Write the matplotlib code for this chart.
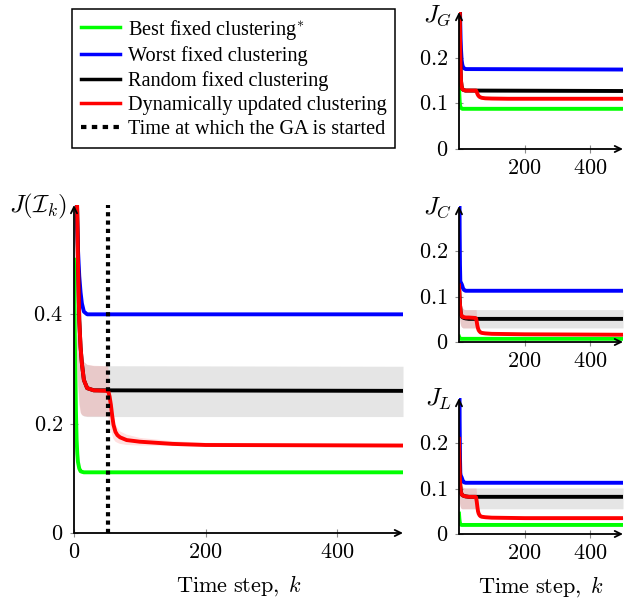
import matplotlib
matplotlib.use('Agg')
import matplotlib.pyplot as plt
from matplotlib.lines import Line2D
from matplotlib.ticker import FuncFormatter

# time steps
k_fast = [0, 1, 2, 3, 4, 5, 6, 8, 10, 12, 15, 20, 30, 500]
k_ga = [0, 1, 2, 3, 4, 5, 6, 8, 10, 12, 15, 20, 30,
        50, 52, 54, 56, 58, 60, 63, 66, 70, 80, 100, 150, 200, 500]
ga_start = 52

# main panel, J(I_k)
main_best = [0.5, 0.38, 0.3, 0.22, 0.17, 0.145, 0.13, 0.118, 0.113, 0.112, 0.111, 0.111, 0.111, 0.111]
main_worst = [0.9, 0.8, 0.72, 0.66, 0.61, 0.56, 0.52, 0.47, 0.44, 0.42, 0.405, 0.4, 0.4, 0.4]
main_random = [1.0, 0.9, 0.8, 0.72, 0.64, 0.58, 0.5, 0.39, 0.34, 0.31, 0.28, 0.265, 0.261, 0.26]
main_random_lo = [0.7, 0.6, 0.5, 0.42, 0.35, 0.3, 0.27, 0.235, 0.22, 0.216, 0.214, 0.213, 0.213, 0.213]
main_random_hi = [1.3, 1.1, 0.95, 0.8, 0.6, 0.5, 0.42, 0.36, 0.335, 0.322, 0.313, 0.308, 0.306, 0.305]
main_dyn = [1.0, 0.9, 0.8, 0.72, 0.64, 0.58, 0.5, 0.39, 0.34, 0.31, 0.28, 0.265, 0.261,
            0.26, 0.26, 0.25, 0.235, 0.215, 0.198, 0.185, 0.179, 0.175, 0.17, 0.167, 0.163, 0.161, 0.16]
main_dyn_lo = [0.7, 0.6, 0.5, 0.42, 0.35, 0.3, 0.27, 0.235, 0.22, 0.216, 0.214, 0.213, 0.213,
               0.213, 0.213, 0.2, 0.19, 0.18, 0.172, 0.167, 0.165, 0.163, 0.161, 0.16, 0.159, 0.158, 0.157]
main_dyn_hi = [1.3, 1.1, 0.95, 0.8, 0.6, 0.5, 0.42, 0.36, 0.335, 0.322, 0.313, 0.308, 0.306,
               0.305, 0.305, 0.27, 0.255, 0.235, 0.215, 0.2, 0.192, 0.186, 0.18, 0.174, 0.168, 0.165, 0.163]

# J_G panel
g_best = [0.14, 0.12, 0.105, 0.097, 0.093, 0.091, 0.09, 0.089, 0.088, 0.088, 0.088, 0.088, 0.088, 0.088]
g_worst = [0.5, 0.42, 0.36, 0.31, 0.27, 0.24, 0.22, 0.195, 0.185, 0.18, 0.177, 0.175, 0.175, 0.174]
g_random = [0.6, 0.45, 0.33, 0.25, 0.2, 0.17, 0.15, 0.137, 0.132, 0.13, 0.129, 0.128, 0.128, 0.127]
g_random_lo = [0.45, 0.35, 0.27, 0.2, 0.17, 0.15, 0.14, 0.13, 0.127, 0.126, 0.125, 0.125, 0.125, 0.125]
g_random_hi = [0.75, 0.55, 0.4, 0.3, 0.24, 0.2, 0.17, 0.148, 0.138, 0.134, 0.132, 0.131, 0.13, 0.13]
g_dyn = [0.6, 0.45, 0.33, 0.25, 0.2, 0.17, 0.15, 0.137, 0.132, 0.13, 0.129, 0.128, 0.128,
         0.128, 0.128, 0.125, 0.121, 0.118, 0.116, 0.114, 0.113, 0.112, 0.111, 0.1105, 0.11, 0.11, 0.11]
g_dyn_lo = [0.45, 0.35, 0.27, 0.2, 0.17, 0.15, 0.14, 0.13, 0.127, 0.126, 0.125, 0.125, 0.125,
            0.125, 0.125, 0.121, 0.117, 0.114, 0.112, 0.111, 0.11, 0.109, 0.109, 0.108, 0.108, 0.108, 0.108]
g_dyn_hi = [0.75, 0.55, 0.4, 0.3, 0.24, 0.2, 0.17, 0.148, 0.138, 0.134, 0.132, 0.131, 0.13,
            0.13, 0.13, 0.13, 0.126, 0.122, 0.119, 0.117, 0.116, 0.115, 0.113, 0.112, 0.112, 0.112, 0.112]

# J_C panel
c_best = [0.012, 0.01, 0.009, 0.008, 0.0075, 0.007, 0.007, 0.007, 0.007, 0.007, 0.007, 0.007, 0.007, 0.007]
c_worst = [0.6, 0.4, 0.25, 0.17, 0.135, 0.13, 0.13, 0.128, 0.124, 0.119, 0.115, 0.113, 0.113, 0.113]
c_random = [0.125, 0.11, 0.095, 0.083, 0.074, 0.067, 0.062, 0.057, 0.055, 0.054, 0.053, 0.052, 0.051, 0.051]
c_random_lo = [0.07, 0.06, 0.05, 0.045, 0.04, 0.037, 0.035, 0.033, 0.032, 0.031, 0.031, 0.031, 0.031, 0.031]
c_random_hi = [0.18, 0.16, 0.14, 0.12, 0.105, 0.095, 0.088, 0.08, 0.076, 0.074, 0.072, 0.0715, 0.0715, 0.0715]
c_dyn = [0.125, 0.11, 0.095, 0.083, 0.074, 0.067, 0.062, 0.058, 0.056, 0.055, 0.055, 0.054, 0.054,
         0.053, 0.052, 0.045, 0.036, 0.03, 0.026, 0.023, 0.021, 0.02, 0.019, 0.018, 0.0175, 0.017, 0.016]
c_dyn_lo = [0.07, 0.06, 0.05, 0.045, 0.04, 0.037, 0.035, 0.033, 0.032, 0.031, 0.031, 0.031, 0.031,
            0.031, 0.031, 0.034, 0.028, 0.024, 0.022, 0.02, 0.019, 0.018, 0.0175, 0.017, 0.016, 0.015, 0.015]
c_dyn_hi = [0.18, 0.16, 0.14, 0.12, 0.105, 0.095, 0.088, 0.08, 0.076, 0.074, 0.072, 0.0715, 0.0715,
            0.0715, 0.0715, 0.056, 0.046, 0.038, 0.032, 0.028, 0.025, 0.023, 0.021, 0.02, 0.019, 0.018, 0.017]

# J_L panel
l_best = [0.045, 0.035, 0.028, 0.024, 0.022, 0.021, 0.0205, 0.02, 0.02, 0.02, 0.02, 0.02, 0.02, 0.02]
l_worst = [0.6, 0.4, 0.25, 0.17, 0.135, 0.13, 0.128, 0.125, 0.121, 0.117, 0.114, 0.113, 0.113, 0.113]
l_random = [0.21, 0.17, 0.14, 0.12, 0.105, 0.097, 0.092, 0.088, 0.086, 0.085, 0.084, 0.083, 0.082, 0.082]
l_random_lo = [0.09, 0.075, 0.066, 0.062, 0.06, 0.058, 0.057, 0.056, 0.0556, 0.0556, 0.0556, 0.0556, 0.0556, 0.0556]
l_random_hi = [0.3, 0.22, 0.17, 0.14, 0.125, 0.117, 0.112, 0.107, 0.105, 0.103, 0.102, 0.1015, 0.1015, 0.1015]
l_dyn = [0.21, 0.17, 0.14, 0.12, 0.105, 0.097, 0.092, 0.088, 0.086, 0.085, 0.084, 0.083, 0.082,
         0.082, 0.081, 0.072, 0.06, 0.05, 0.045, 0.041, 0.039, 0.038, 0.037, 0.036, 0.0355, 0.035, 0.035]
l_dyn_lo = [0.09, 0.075, 0.066, 0.062, 0.06, 0.058, 0.057, 0.056, 0.0556, 0.0556, 0.0556, 0.0556, 0.0556,
            0.0556, 0.0556, 0.06, 0.05, 0.043, 0.04, 0.037, 0.036, 0.035, 0.034, 0.034, 0.033, 0.033, 0.033]
l_dyn_hi = [0.3, 0.22, 0.17, 0.14, 0.125, 0.117, 0.112, 0.107, 0.105, 0.103, 0.102, 0.1015, 0.1015,
            0.1015, 0.1015, 0.085, 0.07, 0.058, 0.05, 0.045, 0.042, 0.041, 0.04, 0.038, 0.038, 0.037, 0.037]

legend_labels = ['Best fixed clustering$^{*}$', 'Worst fixed clustering',
                 'Random fixed clustering', 'Dynamically updated clustering',
                 'Time at which the GA is started']

plt.rcParams['mathtext.fontset'] = 'cm'
plt.rcParams['font.family'] = 'Liberation Serif'

W, H = 641, 602
fig = plt.figure(figsize=(W / 100, H / 100), dpi=100)


def px_axes(left, right, bottom, top):
    return fig.add_axes([left / W, 1 - bottom / H, (right - left) / W, (bottom - top) / H])


def draw_panel(ax, best, worst, rnd, rnd_lo, rnd_hi, dyn, dyn_lo, dyn_hi,
               ymax, yticks, xticks, ylabel, label_dy=-1, xlabel=True):
    lw = 2.8
    ax.fill_between(k_fast, rnd_lo, rnd_hi, color='#e5e5e5', lw=0, zorder=1)
    ax.fill_between(k_ga, dyn_lo, dyn_hi, color='red', alpha=0.12, lw=0, zorder=1.5)
    ax.plot(k_fast, best, color='#00ff00', lw=lw, zorder=2)
    ax.plot(k_fast, worst, color='blue', lw=lw, zorder=2)
    ax.plot(k_fast, rnd, color='black', lw=lw, zorder=2.2)
    ax.plot(k_ga, dyn, color='red', lw=lw, zorder=2.4)
    ax.set_xlim(0, 500)
    ax.set_ylim(0, ymax)
    for s in ax.spines.values():
        s.set_visible(False)
    arrow = dict(arrowstyle='->,head_length=0.45,head_width=0.22', lw=1.3, color='black',
                 shrinkA=0, shrinkB=0)
    ax.annotate('', xy=(1, 0), xytext=(0, 0), xycoords='axes fraction', arrowprops=arrow, zorder=5)
    ax.annotate('', xy=(0, 1), xytext=(0, 0), xycoords='axes fraction', arrowprops=arrow, zorder=5)
    ax.set_xticks(xticks)
    ax.set_yticks(yticks)
    fmt = FuncFormatter(lambda v, p: f'${v:g}$')
    ax.xaxis.set_major_formatter(fmt)
    ax.yaxis.set_major_formatter(fmt)
    ax.tick_params(direction='inout', length=6, width=0.8, color='0.55',
                   labelsize=16, pad=5)
    ax.annotate(ylabel, xy=(0, 1), xycoords='axes fraction', xytext=(-5, label_dy),
                textcoords='offset points', ha='right', va='center', fontsize=18)
    if xlabel:
        ax.set_xlabel(r'$\mathrm{Time\ step,}$ $k$', fontsize=16, labelpad=7)


ax_main = px_axes(74, 403, 533, 205)
draw_panel(ax_main, main_best, main_worst, main_random, main_random_lo, main_random_hi,
           main_dyn, main_dyn_lo, main_dyn_hi, 0.6, [0, 0.2, 0.4], [0, 200, 400],
           r'$J(\mathcal{I}_k)$')
ax_main.axvline(ga_start, color='black', lw=3, ls=(0, (1, 1)), zorder=4)

ax_g = px_axes(459, 623, 149, 12)
draw_panel(ax_g, g_best, g_worst, g_random, g_random_lo, g_random_hi,
           g_dyn, g_dyn_lo, g_dyn_hi, 0.3, [0, 0.1, 0.2], [200, 400], r'$J_G$',
           label_dy=-3, xlabel=False)

ax_c = px_axes(459, 623, 342, 206)
draw_panel(ax_c, c_best, c_worst, c_random, c_random_lo, c_random_hi,
           c_dyn, c_dyn_lo, c_dyn_hi, 0.3, [0, 0.1, 0.2], [200, 400], r'$J_C$',
           label_dy=-1, xlabel=False)

ax_l = px_axes(459, 623, 534, 398)
draw_panel(ax_l, l_best, l_worst, l_random, l_random_lo, l_random_hi,
           l_dyn, l_dyn_lo, l_dyn_hi, 0.3, [0, 0.1, 0.2], [200, 400], r'$J_L$')

handles = [Line2D([], [], color='#00ff00', lw=2.5),
           Line2D([], [], color='blue', lw=2.5),
           Line2D([], [], color='black', lw=2.5),
           Line2D([], [], color='red', lw=2.5),
           Line2D([], [], color='black', lw=3, ls=(0, (1.3, 1.3)))]
leg = fig.legend(handles, legend_labels, loc='upper left',
                 bbox_to_anchor=(72 / W, 1 - 9 / H), borderaxespad=0,
                 fontsize=14.6, frameon=True, fancybox=False, framealpha=1,
                 edgecolor='black', handlelength=1.95, handletextpad=0.4,
                 labelspacing=0.24, borderpad=0.42)
leg.get_frame().set_linewidth(1.1)

fig.savefig('out.png', dpi=100)
